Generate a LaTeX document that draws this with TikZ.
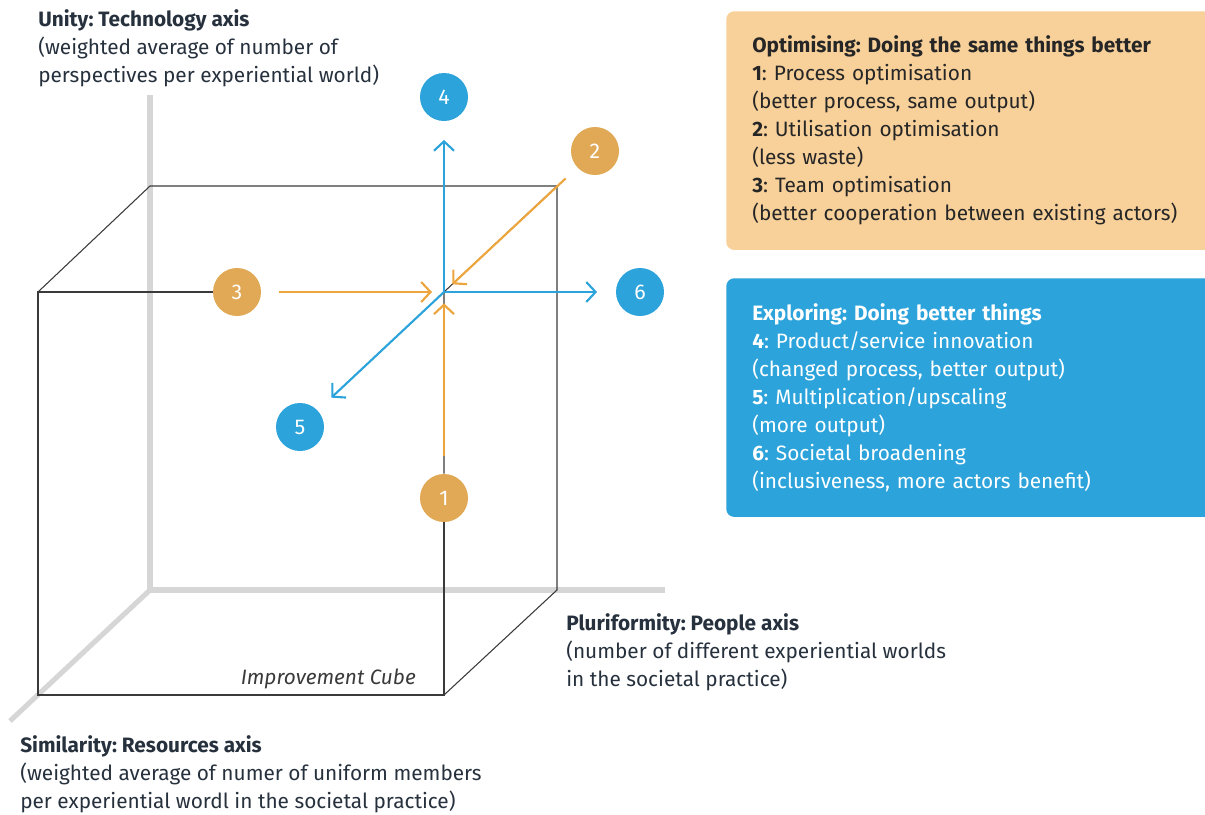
\documentclass[tikz,border=0pt]{standalone}
\usepackage{fontspec}
\setmainfont{Fira Sans}
\usetikzlibrary{arrows.meta}
\frenchspacing

\definecolor{axisgray}{HTML}{D6D6D6}
\definecolor{cubegray}{HTML}{3A3A3A}
\definecolor{optcirc}{HTML}{E1A955}
\definecolor{optline}{HTML}{EDA53E}
\definecolor{optfill}{HTML}{F7D09A}
\definecolor{expblue}{HTML}{2CA3DA}
\definecolor{navy}{HTML}{26313D}

\tikzset{
  txt/.style={font=\fontsize{15.6}{21}\selectfont, align=left, inner sep=0pt},
  axistext/.style={txt, text=navy, anchor=north west},
  num/.style={circle, minimum size=36pt, inner sep=0pt, text=white, font=\fontsize{16}{18}\selectfont},
  optnum/.style={num, fill=optcirc},
  expnum/.style={num, fill=expblue},
  tip/.style={-{Straight Barb[length=7pt,width=15pt]}},
  optarrow/.style={tip, draw=optline, line width=1.6pt},
  exparrow/.style={tip, draw=expblue, line width=1.6pt},
  cubeline/.style={draw=cubegray, line width=0.8pt},
  axisline/.style={draw=axisgray, line width=3.8pt},
  legendbox/.style={txt, rounded corners=6pt, anchor=north west, text width=360pt,
    inner xsep=19.5pt, minimum height=179pt}
}

\begin{document}
\begin{tikzpicture}[x=0.75pt, y=-0.75pt]
        \useasboundingbox (0,0) rectangle (1205,814);

        % Ejes (gris)
        \coordinate (yaxis) at (150,95);
        \coordinate (xaxis) at (665,590);
        \coordinate (zaxis) at (10,721);
        \coordinate (bbl) at (150,590);
        \draw[axisline] (yaxis) -- (bbl) -- (xaxis);
        \draw[axisline] (bbl) -- (zaxis);

        % Esquinas del cubo
        \coordinate (o) at (444,292);
        \coordinate (ftl) at (38,292);
        \coordinate (fbl) at (38,695);
        \coordinate (fbr) at (444,695);
        \coordinate (btl) at (150,186);
        \coordinate (btr) at (557,186);
        \coordinate (bbr) at (557,590);

        % Circulos numerados
        \node[expnum] (c4) at (444,97) {4};
        \node[optnum] (c2) at (595,151) {2};
        \node[optnum] (c3) at (237,292) {3};
        \node[expnum] (c6) at (640,292) {6};
        \node[expnum] (c5) at (300,427) {5};
        \node[optnum] (c1) at (444,498) {1};

        % Cubo
        \draw[cubeline] (c3) -- (ftl) -- (fbl) -- (fbr) -- (c1);
        \draw[cubeline] (c1) -- (o) -- (btr);
        \draw[cubeline] (ftl) -- (btl) -- (btr) -- (bbr) -- (fbr);

        % Flechas naranjas
        \draw[optarrow, shorten <=13.5pt, shorten >=9pt] (c3) -- (o);
        \draw[optarrow, shorten <=12pt, shorten >=8.5pt] (c2) -- (o);
        \draw[optarrow, shorten <=13.5pt, shorten >=8.5pt] (c1) -- (o);
        % Flechas azules
        \draw[exparrow, shorten >=14pt] (o) -- (c4);
        \draw[exparrow, shorten >=14pt] (o) -- (c6);
        \draw[exparrow, shorten >=14pt] (o) -- (c5);

        % Textos de los ejes
        \node[axistext] (unity) at (38,9) {\textbf{Unity: Technology axis}\\(weighted average of number of\\perspectives per experiential world)};
        \node[axistext] (plurif) at (566,613) {\textbf{Pluriformity: People axis}\\(number of different experiential worlds\\in the societal practice)};
        \node[axistext] (simil) at (20,735) {\textbf{Similarity: Resources axis}\\(weighted average of numer of uniform members\\per experiential wordl in the societal practice)};
        \node[txt, text=cubegray, anchor=east, font=\fontsize{15.6}{21}\selectfont\itshape] (cubename) at (416,679) {Improvement Cube};

        % Cajas de leyenda
        \node[legendbox, fill=optfill, text=black!85] (optbox) at (726,11) {\textbf{Optimising: Doing the same things better}\\\textbf{1}: Process optimisation\\(better process, same output)\\\textbf{2}: Utilisation optimisation\\(less waste)\\\textbf{3}: Team optimisation\\(better cooperation between existing actors)};
        \node[legendbox, fill=expblue, text=white] (expbox) at (726,278) {\textbf{Exploring: Doing better things}\\\textbf{4}: Product/service innovation\\(changed process, better output)\\\textbf{5}: Multiplication/upscaling\\(more output)\\\textbf{6}: Societal broadening\\(inclusiveness, more actors benefit)};
    \end{tikzpicture}
\end{document}
